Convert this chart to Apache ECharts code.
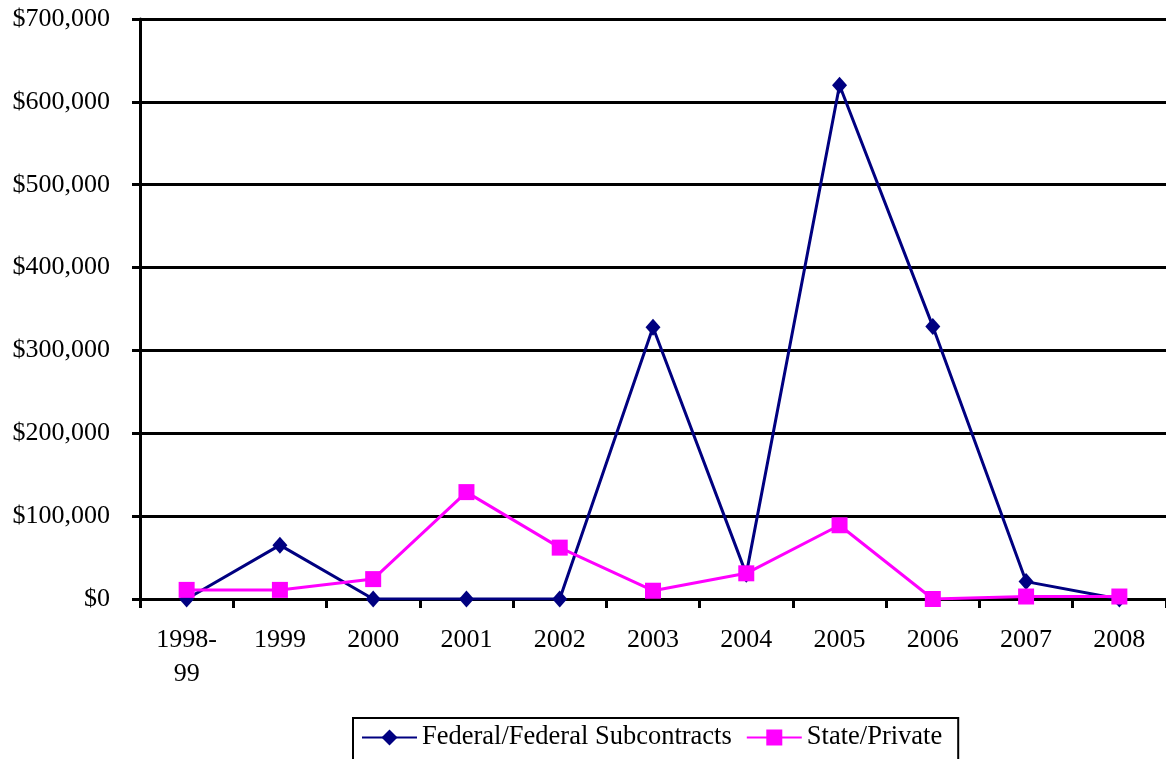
<!DOCTYPE html>
<html>
<head>
<meta charset="utf-8">
<script src="https://cdn.jsdelivr.net/npm/echarts@6/dist/echarts.min.js"></script>
<style>
html,body{margin:0;padding:0;background:#fff;}
#c{width:1166px;height:759px;}
</style>
</head>
<body>
<div id="c"></div>
<script>
const categories = ['1998-\n99','1999','2000','2001','2002','2003','2004','2005','2006','2007','2008'];
const federal = [0, 65000, 0, 0, 0, 328000, 30000, 620000, 329000, 21000, 0];
const statePrivate = [11000, 11000, 24000, 129000, 62000, 10000, 31000, 89000, 0, 3000, 3000];
const seriesNames = ['Federal/Federal Subcontracts', 'State/Private'];

const font = '"Liberation Serif", "Times New Roman", serif';
const chart = echarts.init(document.getElementById('c'));
chart.setOption({
  animation: false,
  backgroundColor: '#fff',
  textStyle: { fontFamily: font },
  grid: { left: 140, right: -6, top: 19, bottom: 160, containLabel: false },
  legend: {
    data: seriesNames,
    left: 353,
    top: 718,
    orient: 'horizontal',
    borderColor: '#000',
    borderWidth: 2,
    padding: [6, 16, 20, 8],
    itemWidth: 55,
    itemHeight: 20,
    itemGap: 14,
    textStyle: { fontFamily: font, fontSize: 26.5, color: '#000' }
  },
  xAxis: {
    type: 'category',
    data: categories,
    boundaryGap: true,
    axisLine: { lineStyle: { color: '#000', width: 3 } },
    axisTick: { show: true, length: 9, lineStyle: { color: '#000', width: 3 } },
    axisLabel: { color: '#000', fontSize: 26, fontFamily: font, margin: 24, lineHeight: 34, interval: 0 },
    splitLine: { show: false }
  },
  yAxis: {
    type: 'value',
    min: 0,
    max: 700000,
    interval: 100000,
    axisLine: { show: true, lineStyle: { color: '#000', width: 3 } },
    axisTick: { show: true, length: 8, lineStyle: { color: '#000', width: 3 } },
    axisLabel: {
      color: '#000', fontSize: 26, fontFamily: font, margin: 30,
      formatter: v => '$' + v.toLocaleString('en-US')
    },
    splitLine: { show: true, lineStyle: { color: '#000', width: 3 } }
  },
  series: [
    {
      name: seriesNames[0],
      type: 'line',
      data: federal,
      symbol: 'diamond',
      symbolSize: [15, 17],
      itemStyle: { color: '#000080' },
      lineStyle: { color: '#000080', width: 3 },
      z: 3
    },
    {
      name: seriesNames[1],
      type: 'line',
      data: statePrivate,
      symbol: 'rect',
      symbolSize: 16,
      itemStyle: { color: '#FF00FF' },
      lineStyle: { color: '#FF00FF', width: 3 },
      z: 4
    }
  ]
});
</script>
</body>
</html>
